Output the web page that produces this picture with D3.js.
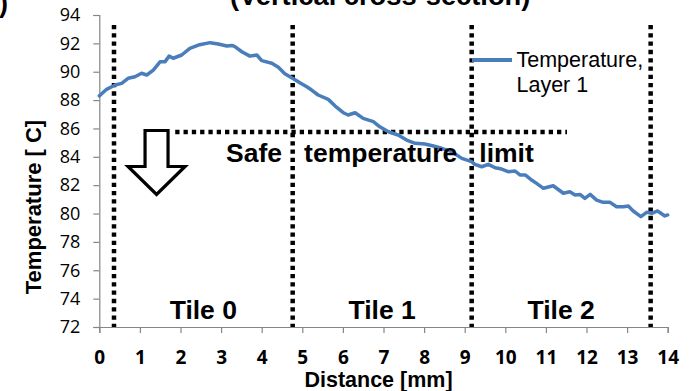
<!DOCTYPE html>
<html><head><meta charset="utf-8">
<script src="https://cdn.jsdelivr.net/npm/d3@7"></script>
<style>body{margin:0;background:#fff;overflow:hidden}</style>
</head><body><svg id="c" width="689" height="391"></svg>
<script>
// ---- data ----
const distance = [0.00,0.18,0.39,0.55,0.71,0.88,1.04,1.17,1.33,1.50,1.62,1.72,1.82,2.03,2.23,2.44,2.73,2.93,3.14,3.27,3.34,3.51,3.71,3.88,4.00,4.25,4.41,4.57,4.78,4.95,5.11,5.23,5.39,5.64,5.81,6.01,6.13,6.30,6.50,6.75,6.91,7.12,7.36,7.57,7.78,8.02,8.23,8.43,8.68,8.93,9.17,9.25,9.42,9.58,9.75,9.91,10.07,10.24,10.36,10.49,10.65,10.77,10.94,11.18,11.43,11.59,11.72,11.84,11.96,12.09,12.25,12.41,12.58,12.74,12.91,13.03,13.15,13.34,13.48,13.61,13.75,13.93,14.00];
const temperature = [88.30,88.76,89.06,89.18,89.54,89.65,89.89,89.77,90.12,90.71,90.71,91.10,90.95,91.18,91.65,91.88,92.05,91.95,91.81,91.85,91.77,91.41,91.10,91.18,90.78,90.60,90.31,89.85,89.50,89.20,88.94,88.71,88.36,88.05,87.58,87.11,86.95,87.11,86.71,86.48,86.12,85.77,85.54,85.18,84.95,84.90,84.76,84.60,84.36,83.89,83.66,83.47,83.30,83.47,83.23,83.14,82.95,83.00,82.72,82.72,82.36,82.13,81.78,81.96,81.43,81.54,81.31,81.35,81.07,81.35,80.95,80.79,80.79,80.48,80.48,80.53,80.18,79.78,80.09,80.02,80.18,79.83,79.90];
const xTicks = [0,1,2,3,4,5,6,7,8,9,10,11,12,13,14];
const yTicks = [72,74,76,78,80,82,84,86,88,90,92,94];
const tileBounds = [0.362, 4.763, 9.172, 13.58];
const tileLabels = ["Tile 0", "Tile 1", "Tile 2"];
const dividerTop = 93.3;
const safeLimit = 85.75;
const limitSpan = [1.87, 11.52];
const limitLabel = "Safe   temperature   limit";
const arrowAt = 1.41;
const seriesName = ["Temperature,", "Layer 1"];
const xTitle = "Distance [mm]";
const yTitle = "Temperature [ C]";
const chartTitle = "(Vertical cross-section)";

// ---- layout ----
const svg = d3.select("#c");
const L = 99.3, R = 667.7, T = 15, B = 327;
const x = d3.scaleLinear().domain([0,14]).range([L,R]);
const y = d3.scaleLinear().domain([72,94]).range([B,T]);
const blue = "#4a7ebb";
const axisGray = "#868686";
const arial = "'Liberation Sans', Arial, sans-serif";
const calib = "'Open Sans', 'Liberation Sans', sans-serif";

// title (cropped at top)
svg.append("text").attr("x", 230).attr("y", 5).attr("font-family", arial)
  .attr("font-weight","bold").attr("font-size",27.3).text(chartTitle);
svg.append("text").attr("x", -1).attr("y", 12).attr("font-family", arial)
  .attr("font-weight","bold").attr("font-size",27).text(")");

// axes
const ya = svg.append("g").attr("transform",`translate(${L},0)`)
  .call(d3.axisLeft(y).tickValues(yTicks).tickSize(6).tickPadding(13).tickFormat(d3.format("d")));
ya.select(".domain").attr("stroke",axisGray).attr("stroke-width",1.2);
ya.selectAll(".tick line").attr("stroke",axisGray).attr("stroke-width",1.2);
ya.selectAll(".tick text").attr("font-family",calib).attr("font-size",18).attr("fill","#000");

const xa = svg.append("g").attr("transform",`translate(0,${B})`)
  .call(d3.axisBottom(x).tickValues(xTicks).tickSize(6).tickPadding(18).tickFormat(d3.format("d")));
xa.select(".domain").attr("stroke",axisGray).attr("stroke-width",1.2);
xa.selectAll(".tick line").attr("stroke",axisGray).attr("stroke-width",1.2);
xa.selectAll(".tick text").attr("font-family",calib).attr("font-weight","bold")
  .attr("font-size",19).attr("fill","#000");

// axis titles
svg.append("text").attr("x",(L+R)/2+-5).attr("y",387).attr("text-anchor","middle")
  .attr("font-family",arial).attr("font-weight","bold").attr("font-size",21.5).text(xTitle);
svg.append("text").attr("transform",`translate(41,207) rotate(-90)`).attr("text-anchor","middle")
  .attr("font-family",arial).attr("font-weight","bold").attr("font-size",22)
  .style("white-space","pre").text(yTitle);

// dividers
const dash = "4.3 4";
svg.append("g").selectAll("line").data(tileBounds).join("line")
  .attr("x1",d=>x(d)).attr("x2",d=>x(d)).attr("y1",y(dividerTop)).attr("y2",y(72))
  .attr("stroke","#000").attr("stroke-width",4.5).attr("stroke-dasharray",dash);

// safe limit line
svg.append("line").attr("x1",x(limitSpan[0])).attr("x2",x(limitSpan[1]))
  .attr("y1",y(safeLimit)).attr("y2",y(safeLimit))
  .attr("stroke","#000").attr("stroke-width",4.5).attr("stroke-dasharray",dash);

// curve
const pts = distance.map((d,i)=>[d,temperature[i]]);
svg.append("path").datum(pts)
  .attr("d", d3.line().x(d=>x(d[0])).y(d=>y(d[1])))
  .attr("fill","none").attr("stroke",blue).attr("stroke-width",3.5)
  .attr("stroke-linejoin","round").attr("stroke-linecap","round");

// tile labels
svg.append("g").selectAll("text").data(tileLabels).join("text")
  .attr("x",(d,i)=>x((tileBounds[i]+tileBounds[i+1])/2)).attr("y",319)
  .attr("text-anchor","middle").attr("font-family",arial).attr("font-weight","bold")
  .attr("font-size",26.5).text(d=>d);

// limit label
svg.append("text").attr("x",226).attr("y",y(safeLimit)+29.5)
  .attr("font-family",arial).attr("font-weight","bold").attr("font-size",26.5)
  .style("white-space","pre").text(limitLabel);

// hollow arrow
const ax = x(arrowAt), at = y(safeLimit)-1.5;
const arrow = [[-11.5,0],[11.5,0],[11.5,36],[28.5,36],[0,64],[-28.5,36],[-11.5,36]];
svg.append("path").attr("d", d3.line()(arrow.map(p=>[ax+p[0], at+p[1]]))+"Z")
  .attr("fill","#fff").attr("stroke","#000").attr("stroke-width",3.2).attr("stroke-linejoin","miter");

// legend
const lx = 472, ly = 60;
svg.append("line").attr("x1",lx).attr("x2",lx+40).attr("y1",ly).attr("y2",ly)
  .attr("stroke",blue).attr("stroke-width",4);
svg.append("g").selectAll("text").data(seriesName).join("text")
  .attr("x",lx+44.5).attr("y",(d,i)=>ly+7+i*25).attr("font-family",arial)
  .attr("font-size",21.5).text(d=>d);
</script></body></html>
